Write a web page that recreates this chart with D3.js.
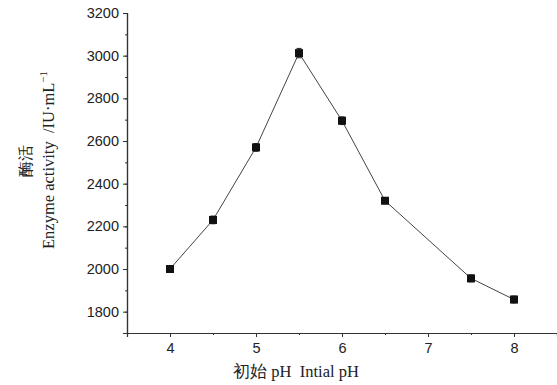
<!DOCTYPE html>
<html>
<head>
<meta charset="utf-8">
<script src="https://cdn.jsdelivr.net/npm/d3@7"></script>
<style>
body { margin: 0; background: #fff; }
svg { display: block; }
text { white-space: pre; }
</style>
</head>
<body>
<svg class="mysvg"></svg>
<script>
// initial pH vs enzyme activity
var phValues = [4, 4.5, 5, 5.5, 6, 6.5, 7.5, 8];
var activity = [2000, 2230, 2570, 3012, 2695, 2320, 1956, 1857];
var errors = [15, 18, 18, 22, 18, 14, 16, 16];
var xTicks = [4, 5, 6, 7, 8];
var yTicks = [1800, 2000, 2200, 2400, 2600, 2800, 3000, 3200];

var svgWidth = 557, svgHeight = 385;
var svg = d3.select(".mysvg")
    .attr("width", svgWidth)
    .attr("height", svgHeight);

var x = d3.scaleLinear().domain([3.5, 8.5]).range([127, 557]);
var y = d3.scaleLinear().domain([1700, 3200]).range([333, 13]);

// axes
var xAxis = d3.axisBottom(x).tickValues(xTicks).tickSize(4).tickPadding(6).tickFormat(d3.format("d"));
var xMinor = d3.axisBottom(x).tickValues(d3.range(3.5, 8.6, 0.5)).tickSize(2).tickFormat("");
var yAxis = d3.axisLeft(y).tickValues(yTicks).tickSize(4).tickPadding(4).tickFormat(d3.format("d"));
var yMinor = d3.axisLeft(y).tickValues(d3.range(1700, 3201, 100)).tickSize(2).tickFormat("");

function styleAxis(g) {
    g.select(".domain").attr("stroke", "#333").attr("stroke-width", 1.2);
    g.selectAll(".tick line").attr("stroke", "#333");
    g.selectAll("text").attr("fill", "#222")
        .style("font-family", "Liberation Sans, Arial, sans-serif")
        .style("font-size", "14.5px");
}

svg.append("g").attr("transform", "translate(0,333)").call(xMinor).call(styleAxis);
svg.append("g").attr("transform", "translate(0,333)").call(xAxis).call(styleAxis);
svg.append("g").attr("transform", "translate(127,0)").call(yMinor).call(styleAxis);
svg.append("g").attr("transform", "translate(127,0)").call(yAxis).call(styleAxis);

// data line
var line = d3.line()
    .x(function(d, i) { return x(phValues[i]); })
    .y(function(d) { return y(d); });

svg.append("path")
    .datum(activity)
    .attr("d", line)
    .attr("fill", "none")
    .attr("stroke", "#444")
    .attr("stroke-width", 1);

// error bars
var eb = svg.selectAll(".err")
    .data(activity)
    .enter()
    .append("g");

eb.append("line")
    .attr("x1", function(d, i) { return x(phValues[i]); })
    .attr("x2", function(d, i) { return x(phValues[i]); })
    .attr("y1", function(d, i) { return y(d + errors[i]); })
    .attr("y2", function(d, i) { return y(d - errors[i]); })
    .attr("stroke", "#222");

eb.selectAll(".cap")
    .data(function(d, i) { return [[phValues[i], d + errors[i]], [phValues[i], d - errors[i]]]; })
    .enter()
    .append("line")
    .attr("x1", function(d) { return x(d[0]) - 2.5; })
    .attr("x2", function(d) { return x(d[0]) + 2.5; })
    .attr("y1", function(d) { return y(d[1]); })
    .attr("y2", function(d) { return y(d[1]); })
    .attr("stroke", "#222");

// square markers
svg.selectAll(".pt")
    .data(activity)
    .enter()
    .append("rect")
    .attr("x", function(d, i) { return x(phValues[i]) - 4; })
    .attr("y", function(d) { return y(d) - 4; })
    .attr("width", 8)
    .attr("height", 8)
    .attr("fill", "#111");

// labels
svg.append("text")
    .attr("x", 296)
    .attr("y", 377)
    .attr("text-anchor", "middle")
    .style("font-family", "Liberation Serif, Times New Roman, serif")
    .style("font-size", "16.5px")
    .attr("fill", "#222")
    .text("初始 pH  Intial pH");

svg.append("text")
    .attr("transform", "translate(31,161) rotate(-90)")
    .attr("text-anchor", "middle")
    .style("font-family", "Liberation Serif, Times New Roman, serif")
    .style("font-size", "16px")
    .attr("fill", "#222")
    .text("酶活");

var ylab2 = svg.append("text")
    .attr("transform", "translate(54,160) rotate(-90)")
    .attr("text-anchor", "middle")
    .style("font-family", "Liberation Serif, Times New Roman, serif")
    .style("font-size", "16.5px")
    .attr("fill", "#222");
ylab2.append("tspan").text("Enzyme activity  /IU·mL");
ylab2.append("tspan").attr("dy", -7).style("font-size", "11px").text("−1");
</script>
</body>
</html>
